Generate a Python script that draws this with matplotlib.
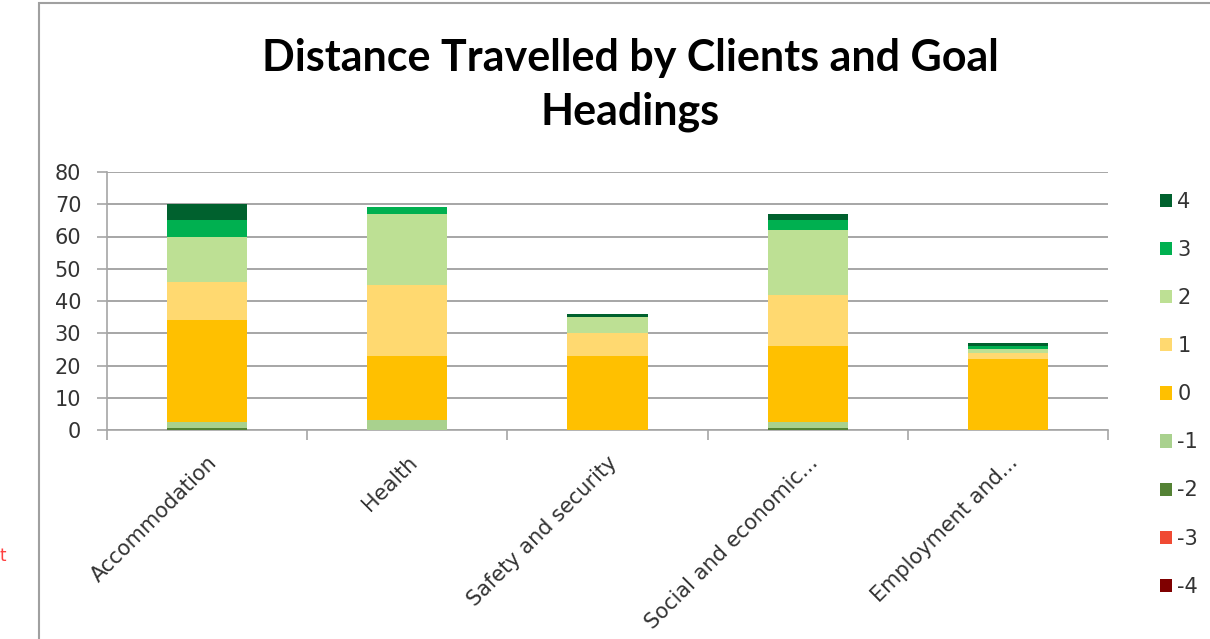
import numpy as np
import matplotlib.pyplot as plt
from matplotlib.patches import Rectangle, Patch

# Categories and stacked series (score levels -4 .. 4)
categories = ["Accommodation", "Health", "Safety and security",
              "Social and economic...", "Employment and..."]
levels = ["-4", "-3", "-2", "-1", "0", "1", "2", "3", "4"]
s_m4 = [0, 0, 0, 0, 0]
s_m3 = [0, 0, 0, 0, 0]
s_m2 = [0.6, 0, 0, 0.6, 0]
s_m1 = [2, 3, 0, 2, 0]
s_0 = [31.4, 20, 23, 23.4, 22]
s_1 = [12, 22, 7, 16, 2]
s_2 = [14, 22, 5, 20, 1]
s_3 = [5, 2, 0, 3, 1]
s_4 = [5, 0, 1, 2, 1]
series = [s_m4, s_m3, s_m2, s_m1, s_0, s_1, s_2, s_3, s_4]
colors = ["#7F0000", "#F04A33", "#548235", "#A9D18E", "#FFC000",
          "#FFD970", "#BDE094", "#00B050", "#00612E"]

fig = plt.figure(figsize=(12.1, 6.39), dpi=100)
ax = fig.add_axes([107 / 1210, 209 / 639, 1001 / 1210, 258 / 639])

x = np.arange(len(categories))
bottom = np.zeros(len(categories))
for vals, col in zip(series, colors):
    vals = np.array(vals, dtype=float)
    ax.bar(x, vals, width=0.4, bottom=bottom, color=col, zorder=3)
    bottom += vals

ax.set_xlim(-0.5, len(categories) - 0.5)
ax.set_ylim(0, 80)
ax.set_yticks(range(0, 81, 10))
ax.yaxis.grid(True, color="#A6A6A6", linewidth=1.4, zorder=0)

for side in ["top", "right"]:
    ax.spines[side].set_visible(False)
for side in ["left", "bottom"]:
    ax.spines[side].set_color("#A6A6A6")
    ax.spines[side].set_linewidth(1.2)

# Excel style: ticks between categories
ax.set_xticks(np.arange(-0.5, len(categories), 1.0))
ax.set_xticklabels([])
ax.set_xticks(x, minor=True)
ax.set_xticklabels(categories, minor=True, rotation=45, ha="right",
                   rotation_mode="anchor", fontsize=15, color="#333333")
ax.tick_params(axis="x", which="minor", length=0, pad=16)
ax.tick_params(axis="x", which="major", length=7.5, color="#A6A6A6", width=1.2)
ax.tick_params(axis="y", length=7.5, color="#A6A6A6", width=1.2,
               labelsize=15, labelcolor="#333333", pad=11)

fig.text(630 / 1210, 1 - 85 / 639,
         "Distance Travelled by Clients and Goal\nHeadings",
         ha="center", va="center", fontsize=31, fontweight="bold",
         family="Lato", linespacing=1.4, color="#000000")

handles = [Patch(facecolor=c, edgecolor="none") for c in colors]
leg = fig.legend(handles[::-1], levels[::-1], loc="upper left",
                 bbox_to_anchor=(1141 / 1210, 1 - 173 / 639),
                 frameon=False, fontsize=15, handlelength=0.6,
                 handleheight=0.6, handletextpad=0.25, labelspacing=1.35,
                 labelcolor="#333333")

# chart frame
fig.patches.append(Rectangle((39 / 1210, -0.05), 1.2, 1 - 3 / 639 + 0.05,
                             transform=fig.transFigure, fill=False,
                             edgecolor="#A0A0A0", linewidth=1.5))
fig.text(0, 1 - 556 / 639, "t", color="#FF4040", fontsize=12,
         ha="left", va="center")

fig.savefig("out.png", dpi=100)
